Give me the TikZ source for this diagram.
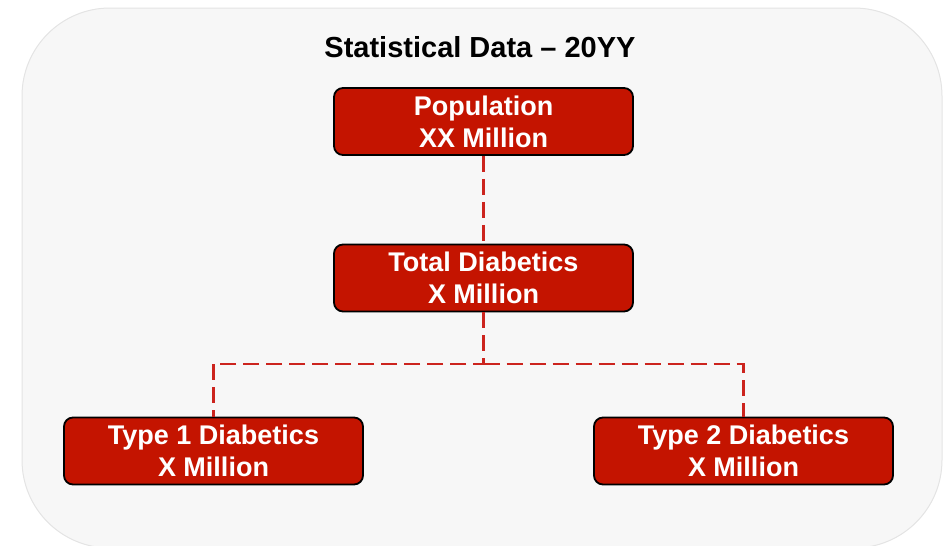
\documentclass[tikz,border=0pt]{standalone}
\usepackage{fontspec}
\setmainfont{Liberation Sans}
\definecolor{boxred}{RGB}{196,20,0}
\definecolor{linered}{RGB}{204,36,30}
\definecolor{panelfill}{RGB}{247,247,247}
\definecolor{panelline}{RGB}{228,228,228}
\tikzset{
  databox/.style={draw=black, line width=1.8pt, fill=boxred, rounded corners=9pt,
    minimum width=299pt, minimum height=67pt, inner sep=0pt, align=center,
    text=white, font=\fontsize{27}{32}\selectfont\bfseries},
  link/.style={draw=linered, line width=2.4pt, dash pattern=on 16pt off 7pt},
  titletext/.style={font=\fontsize{29}{32}\selectfont\bfseries, text=black, inner sep=0pt, anchor=base}
}
\begin{document}
\begin{tikzpicture}[x=1pt,y=-1pt]
\useasboundingbox (0,0) rectangle (946,546);
\draw[fill=panelfill, draw=panelline, line width=1pt, rounded corners=88pt] (22,8) rectangle (942,548);
\node[titletext] (title) at (480,57) {Statistical Data – 20YY};
\node[databox] (pop) at (483.5,121.5) {Population\\XX Million};
\node[databox] (tot) at (483.5,278) {Total Diabetics\\X Million};
\node[databox] (t1) at (213.5,451) {Type 1 Diabetics\\X Million};
\node[databox] (t2) at (743.5,451) {Type 2 Diabetics\\X Million};
\coordinate (j) at (483.5,364);
\draw[link] (pop.south) -- (tot.north);
\draw[link] (tot.south) -- (j) -| (t1.north);
\draw[link] (j) -| (t2.north);
\end{tikzpicture}
\end{document}
